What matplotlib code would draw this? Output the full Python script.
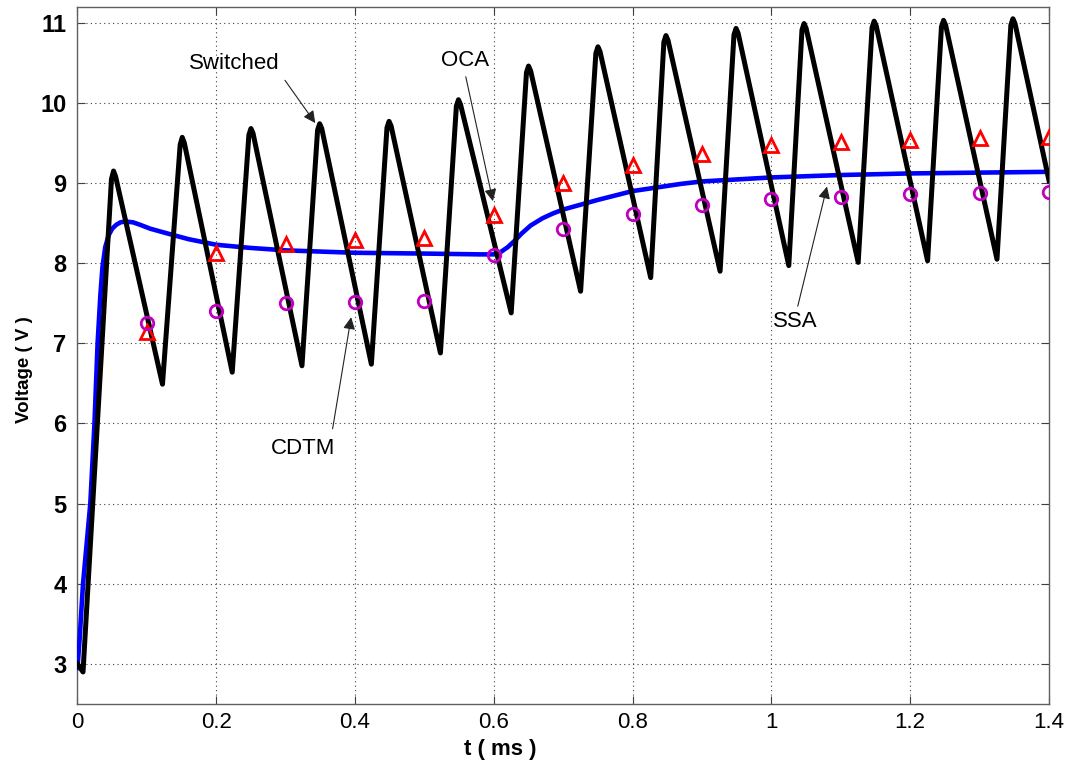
import matplotlib
matplotlib.use("Agg")
import matplotlib.pyplot as plt

# switched waveform (vertices of the sawtooth)
t_sw = [0.0, 0.008, 0.049, 0.052, 0.055, 0.1225, 0.148, 0.151, 0.154, 0.223,
        0.247, 0.25, 0.253, 0.3235, 0.346, 0.349, 0.352, 0.4235, 0.446, 0.449,
        0.452, 0.523, 0.546, 0.549, 0.552, 0.625, 0.647, 0.65, 0.653, 0.725,
        0.747, 0.75, 0.753, 0.826, 0.845, 0.848, 0.851, 0.926, 0.946, 0.949,
        0.952, 1.025, 1.044, 1.047, 1.05, 1.125, 1.145, 1.148, 1.151, 1.225,
        1.245, 1.248, 1.251, 1.325, 1.345, 1.348, 1.351, 1.4]
v_sw = [3.0, 2.9, 9.05, 9.15, 9.08, 6.49, 9.48, 9.57, 9.5, 6.64,
        9.6, 9.68, 9.62, 6.72, 9.66, 9.74, 9.68, 6.74, 9.69, 9.77,
        9.71, 6.88, 9.96, 10.04, 9.98, 7.38, 10.38, 10.46, 10.4, 7.65,
        10.62, 10.7, 10.64, 7.82, 10.76, 10.84, 10.78, 7.90, 10.85, 10.93,
        10.87, 7.97, 10.91, 10.99, 10.93, 8.01, 10.94, 11.02, 10.96, 8.03,
        10.95, 11.03, 10.97, 8.05, 10.97, 11.05, 10.99, 9.03]

# SSA (state space averaged) curve
t_ssa = [0.0, 0.003, 0.008, 0.0185, 0.0245, 0.029, 0.033, 0.036, 0.04, 0.045,
         0.05, 0.056, 0.062, 0.069, 0.08, 0.09, 0.105, 0.13, 0.16, 0.2,
         0.25, 0.3, 0.4, 0.5, 0.58, 0.6, 0.61, 0.62, 0.63, 0.64,
         0.653, 0.67, 0.685, 0.7, 0.75, 0.8, 0.87, 0.9, 1.0, 1.1,
         1.2, 1.3, 1.4]
v_ssa = [2.95, 3.3, 4.0, 5.0, 6.0, 7.0, 7.6, 7.95, 8.2, 8.35,
         8.43, 8.48, 8.51, 8.52, 8.51, 8.48, 8.43, 8.37, 8.3, 8.23,
         8.19, 8.16, 8.13, 8.12, 8.11, 8.11, 8.14, 8.2, 8.28, 8.37,
         8.47, 8.56, 8.62, 8.67, 8.79, 8.9, 8.99, 9.02, 9.07, 9.1,
         9.12, 9.13, 9.14]

# sampled points
t_pts = [0.1, 0.2, 0.3, 0.4, 0.5, 0.6, 0.7, 0.8, 0.9, 1.0, 1.1, 1.2, 1.3, 1.4]
v_oca = [7.14, 8.13, 8.24, 8.29, 8.32, 8.60, 9.0, 9.23, 9.36, 9.47, 9.51, 9.54, 9.56, 9.57]
v_cdtm = [7.25, 7.40, 7.50, 7.52, 7.53, 8.10, 8.43, 8.62, 8.73, 8.80, 8.83, 8.86, 8.88, 8.89]

xticks = [0, 0.2, 0.4, 0.6, 0.8, 1, 1.2, 1.4]
xticklabels = ["0", "0.2", "0.4", "0.6", "0.8", "1", "1.2", "1.4"]
yticks = [3, 4, 5, 6, 7, 8, 9, 10, 11]

arial = ["Liberation Sans", "DejaVu Sans"]

fig = plt.figure(figsize=(10.7, 7.63), dpi=100)
ax = fig.add_axes([0.0724, 0.0773, 0.908, 0.9139])

ax.plot(t_ssa, v_ssa, color="#0000ff", lw=3.3, zorder=3)
ax.plot(t_sw, v_sw, color="black", lw=3.6, zorder=4, solid_joinstyle="round")
ax.plot(t_pts, v_oca, ls="none", marker="^", ms=10.5, mfc="none", mec="#ff0000",
        mew=2.0, zorder=5)
ax.plot(t_pts, v_cdtm, ls="none", marker="o", ms=9, mfc="none", mec="#bf00bf",
        mew=2.0, zorder=5)

ax.set_xlim(0, 1.4)
ax.set_ylim(2.5, 11.2)
ax.set_xticks(xticks)
ax.set_xticklabels(xticklabels, family=arial, fontsize=16)
ax.set_yticks(yticks)
ax.set_yticklabels([str(v) for v in yticks], family=arial, fontsize=17,
                   fontweight="bold")
ax.tick_params(direction="in", length=6, width=0.8, color="#404040",
               top=True, right=True)
ax.tick_params(axis="x", pad=6)
ax.tick_params(axis="y", pad=8)

ax.grid(True, color="#404040", ls=(0, (1, 3)), lw=0.8)
for s in ax.spines.values():
    s.set_color("#606060")
    s.set_linewidth(1.0)

ax.set_xlabel("t ( ms )", family=arial, fontsize=16, fontweight="bold")
ax.set_ylabel("Voltage ( V )", family=arial, fontsize=13.5, fontweight="bold")
ax.xaxis.set_label_coords(0.435, -0.05)
ax.yaxis.set_label_coords(-0.046, 0.479)

arr = dict(arrowstyle="-|>", color="#222222", lw=0.8, mutation_scale=18)
ax.text(0.2256, 10.49, "Switched", family=arial, fontsize=16, ha="center", va="center")
ax.annotate("", xy=(0.345, 9.72), xytext=(0.2967, 10.31), arrowprops=arr, zorder=6)
ax.text(0.5587, 10.525, "OCA", family=arial, fontsize=16, ha="center", va="center")
ax.annotate("", xy=(0.5995, 8.74), xytext=(0.5587, 10.36), arrowprops=arr, zorder=6)
ax.text(1.0345, 7.275, "SSA", family=arial, fontsize=16, ha="center", va="center")
ax.annotate("", xy=(1.081, 8.99), xytext=(1.037, 7.43), arrowprops=arr, zorder=6)
ax.text(0.325, 5.69, "CDTM", family=arial, fontsize=16, ha="center", va="center")
ax.annotate("", xy=(0.395, 7.36), xytext=(0.367, 5.9), arrowprops=arr, zorder=6)

fig.savefig("out.png", dpi=100)
